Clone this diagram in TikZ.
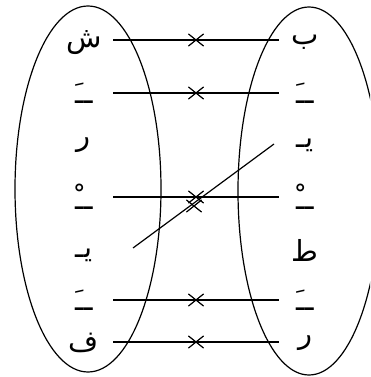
\documentclass[tikz,border=0pt]{standalone}
\usepackage{fontspec}
\newfontfamily\arabicfont[Script=Arabic]{DejaVu Sans}
\TeXXeTstate=1
\usetikzlibrary{shapes.misc}

\begin{document}
\begin{tikzpicture}[x=1pt, y=-1pt,
        lbl/.style={font=\arabicfont\fontsize{29}{32}\selectfont, inner sep=0pt},
        ln/.style={line width=1.2pt},
        xmark/.style={cross out, draw, line width=1.2pt, minimum width=14pt,
                      minimum height=11pt, inner sep=0pt}]
      \useasboundingbox (0,0) rectangle (370,377);
      \clip (0,0) rectangle (370,377);
      % the two sets
      \draw[ln] (88,189) ellipse [x radius=73, y radius=183];
      \draw[ln] (309,191) ellipse [x radius=71, y radius=184];
      % letters
      \foreach \t/\y [count=\i] in {ش/43, ــَ/93, ر/145, ــْ/197, يـ/255, ــَ/300, ف/343}
        \node[lbl] (l\i) at (84,\y) {\beginR\t\endR};
      \foreach \t/\y [count=\i] in {ب/42, ــَ/93, يـ/145, ــْ/197, ط/250, ــَ/300, ر/343}
        \node[lbl] (r\i) at (305,\y) {\beginR\t\endR};
      % pairs that are crossed out
      \foreach \y/\k in {40/1, 93/2, 197/4, 300/6, 342/7} {
        \coordinate (a\k) at (113,\y);
        \coordinate (b\k) at (279,\y);
        \node[xmark] (x\k) at (196,\y) {};
        \draw[ln] (a\k) -- (b\k);
      }
      \coordinate (d1) at (133,248);
      \coordinate (d2) at (274,144);
      \node[xmark] (s) at (194,206) {};
      \draw[ln] (d1) -- (d2);
    \end{tikzpicture}
\end{document}
